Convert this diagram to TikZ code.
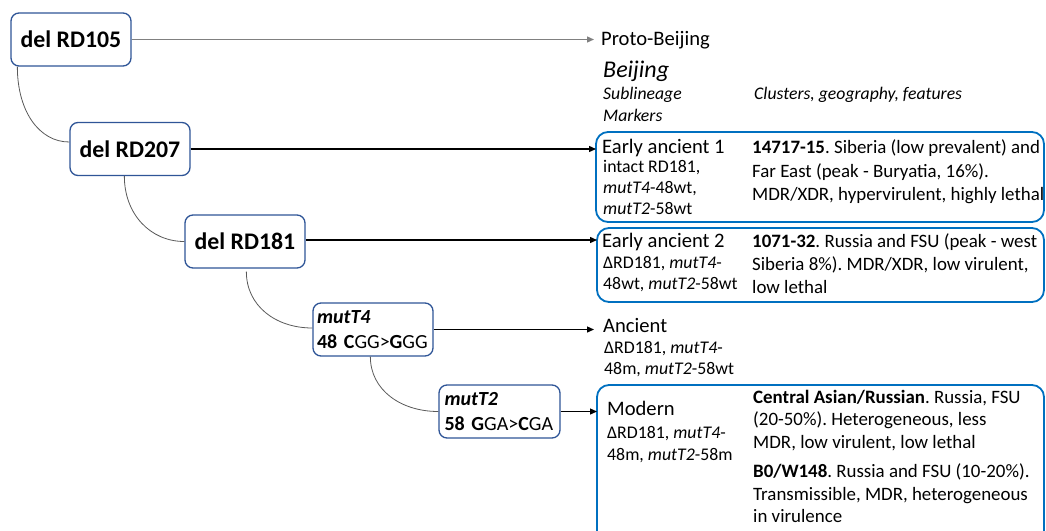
\documentclass[tikz,border=0pt]{standalone}
\usepackage{fontspec}
\setmainfont{Carlito}
\usetikzlibrary{arrows.meta}
\definecolor{nodeblue}{HTML}{2F5597}
\definecolor{boxblue}{HTML}{0070C0}
\definecolor{curvegray}{HTML}{595959}
\frenchspacing
\begin{document}
\begin{tikzpicture}[x=1pt,y=-1pt,
  mbox/.style={draw=nodeblue, line width=1.3pt, rounded corners=8pt, fill=white,
    minimum width=120pt, minimum height=53pt, inner sep=0pt,
    font=\fontsize{23.8}{26}\selectfont\bfseries},
  mutbox/.style={draw=nodeblue, line width=1.3pt, rounded corners=8pt, fill=white,
    inner sep=0pt, align=left, minimum height=53pt, font=\fontsize{20}{25}\selectfont},
  bluebox/.style={draw=boxblue, line width=1.8pt, rounded corners=12pt},
  tx/.style={anchor=base west, inner sep=0pt},
  big/.style={tx, font=\fontsize{20.6}{22}\selectfont},
  mid/.style={tx, font=\fontsize{18.9}{22}\selectfont},
  small/.style={tx, font=\fontsize{17.8}{20}\selectfont},
  arr/.style={-{Triangle[length=7pt,width=6pt]}, line width=1.3pt, black},
  link/.style={curvegray, line width=0.8pt}
]
\useasboundingbox (0,0) rectangle (1046,530);
\clip (0,0) rectangle (1046,530);

% blue frames
\draw[bluebox] (596,132) rectangle (1044,222);
\draw[bluebox] (597,228) rectangle (1044,302);
\draw[bluebox] (597,385) rectangle (1044,560);

% marker boxes
\node[mbox] (rd105) at (71,39.5) {del RD105};
\node[mbox] (rd207) at (130,149) {del RD207};
\node[mbox] (rd181) at (245,241.5) {del RD181};
\node[mutbox, minimum width=120pt, text width=112pt] (mut4) at (373,329.5)
  {\textbf{\textit{mutT4}}\\\textbf{48 C}GG>\textbf{G}GG};
\node[mutbox, minimum width=121pt, text width=110pt] (mut2) at (499.5,411.5)
  {\textbf{\textit{mutT2}}\\\textbf{58 G}GA>\textbf{C}GA};

% arrow end points
\coordinate (e0) at (594,39);
\coordinate (e1) at (596,149);
\coordinate (e2) at (597,240);
\coordinate (e3) at (594,329);
\coordinate (e4) at (597,412);

\draw[arr, draw=gray, fill=black] (rd105.east) -- (rd105.east -| e0);
\draw[arr] (rd207.east) -- (rd207.east -| e1);
\draw[arr] ([yshift=1.5pt]rd181.east) -- ([yshift=1.5pt]rd181.east -| e2);
\draw[arr] (mut4.east) -- (mut4.east -| e3);
\draw[arr] (mut2.east) -- (mut2.east -| e4);

% curved links
\draw[link] ([xshift=7pt]rd105.south west) .. controls +(0,45) and +(-30,0) .. ([yshift=7pt]rd207.west);
\draw[link] ([xshift=55pt]rd207.south west) .. controls +(0,38) and +(-34,0) .. (rd181.west);
\draw[link] ([xshift=62pt,yshift=-3pt]rd181.south west) .. controls +(0,34) and +(-37,0) .. ([yshift=1.5pt]mut4.west);
\draw[link] ([xshift=58pt]mut4.south west) .. controls +(0,33) and +(-38,0) .. (mut2.west);

% headers
\node[big] (proto) at (601,45) {Proto-Beijing};
\node[tx, font=\fontsize{24}{26}\selectfont\itshape] (beij) at (603,77) {Beijing};
\node[tx, font=\fontsize{17.7}{20}\selectfont\itshape] (subl) at (603,99) {Sublineage};
\node[tx, font=\fontsize{17.7}{20}\selectfont\itshape] (mark) at (603,121) {Markers};
\node[tx, font=\fontsize{17.7}{20}\selectfont\itshape] (clus) at (754,99) {Clusters, geography, features};

% box 1
\node[big] (ea1) at (602,153) {Early ancient 1};
\node[small] (ea1a) at (603,172) {intact RD181,};
\node[small] (ea1b) at (603,193) {\textit{mutT4}-48wt,};
\node[small] (ea1c) at (603,214) {\textit{mutT2}-58wt};
\node[mid] (c1a) at (752,153) {\textbf{14717-15}. Siberia (low prevalent) and};
\node[mid] (c1b) at (752,177) {Far East (peak - Buryatia, 16\%).};
\node[mid] (c1c) at (752,200) {MDR/XDR, hypervirulent, highly lethal};

% box 2
\node[big] (ea2) at (602,247) {Early ancient 2};
\node[small] (ea2a) at (603,268) {ΔRD181, \textit{mutT4}-};
\node[small] (ea2b) at (603,289) {48wt, \textit{mutT2}-58wt};
\node[mid] (c2a) at (752,247) {\textbf{1071-32}. Russia and FSU (peak - west};
\node[mid] (c2b) at (752,270) {Siberia 8\%). MDR/XDR, low virulent,};
\node[mid] (c2c) at (752,293) {low lethal};

% ancient
\node[big] (anc) at (603,332) {Ancient};
\node[small] (anca) at (604,353) {ΔRD181, \textit{mutT4}-};
\node[small] (ancb) at (604,374) {48m, \textit{mutT2}-58wt};

% modern
\node[big] (mod) at (607,415) {Modern};
\node[small] (moda) at (607,438) {ΔRD181, \textit{mutT4}-};
\node[small] (modb) at (607,460) {48m, \textit{mutT2}-58m};
\node[mid] (c3a) at (753,403) {\textbf{Central Asian/Russian}. Russia, FSU};
\node[mid] (c3b) at (753,425) {(20-50\%). Heterogeneous, less};
\node[mid] (c3c) at (753,448) {MDR, low virulent, low lethal};
\node[mid] (c3d) at (753,477) {\textbf{B0/W148}. Russia and FSU (10-20\%).};
\node[mid] (c3e) at (753,500) {Transmissible, MDR, heterogeneous};
\node[mid] (c3f) at (753,522) {in virulence};
\end{tikzpicture}
\end{document}
